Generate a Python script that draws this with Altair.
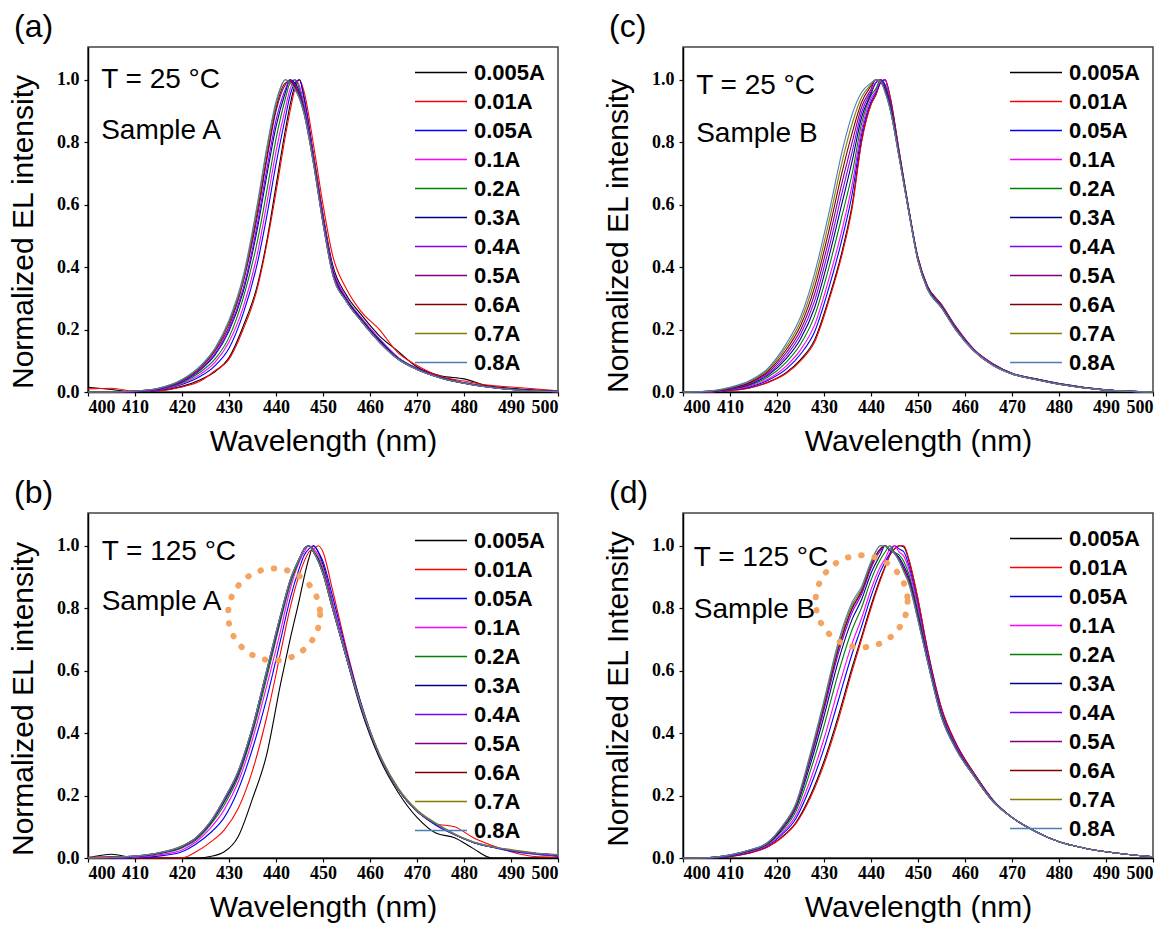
import altair as alt
import pandas as pd

CURRENTS = ["0.005A", "0.01A", "0.05A", "0.1A", "0.2A", "0.3A", "0.4A", "0.5A", "0.6A", "0.7A", "0.8A"]
COLORS = ["#000000", "#FF0000", "#0000FF", "#FF00FF", "#008000", "#000080",
          "#8000FF", "#800080", "#800000", "#808000", "#4A7EBB"]
X_TICKS = [400, 410, 420, 430, 440, 450, 460, 470, 480, 490, 500]
Y_TICKS = [0.0, 0.2, 0.4, 0.6, 0.8, 1.0]

# ---------------- (a) Sample A, 25 C ----------------
WL_A = [400, 405, 410, 415, 420, 424, 427, 430, 433, 436, 438, 440, 442, 443, 444, 445, 446, 448, 450, 452, 455, 458, 462, 466, 470, 475, 480, 485, 490, 500]
A_0005 = [0.015, 0.008, 0.0, 0.004, 0.018, 0.04, 0.065, 0.11, 0.21, 0.34, 0.48, 0.66, 0.84, 0.92, 0.98, 1.0, 0.94, 0.76, 0.57, 0.41, 0.31, 0.25, 0.18, 0.13, 0.08, 0.052, 0.042, 0.02, 0.012, 0.003]
A_001 = [0.01, 0.012, 0.002, 0.004, 0.016, 0.036, 0.068, 0.105, 0.2, 0.33, 0.47, 0.64, 0.82, 0.9, 0.97, 1.0, 0.96, 0.79, 0.6, 0.44, 0.33, 0.26, 0.2, 0.125, 0.085, 0.05, 0.035, 0.022, 0.016, 0.004]
A_005 = [0.0, 0.0, 0.001, 0.006, 0.024, 0.051, 0.084, 0.14, 0.25, 0.41, 0.56, 0.73, 0.88, 0.95, 0.99, 1.0, 0.94, 0.75, 0.56, 0.40, 0.30, 0.24, 0.17, 0.11, 0.076, 0.047, 0.03, 0.018, 0.01, 0.002]
A_01 = [0.0, 0.0, 0.001, 0.007, 0.027, 0.058, 0.095, 0.16, 0.27, 0.44, 0.6, 0.77, 0.91, 0.97, 1.0, 0.98, 0.92, 0.75, 0.56, 0.40, 0.30, 0.24, 0.17, 0.11, 0.075, 0.046, 0.029, 0.017, 0.009, 0.002]
A_02 = [0.0, 0.0, 0.002, 0.009, 0.03, 0.065, 0.105, 0.175, 0.3, 0.48, 0.64, 0.81, 0.94, 0.99, 1.0, 0.97, 0.91, 0.74, 0.55, 0.39, 0.295, 0.235, 0.165, 0.108, 0.074, 0.046, 0.029, 0.017, 0.009, 0.002]
A_03 = [0.0, 0.0, 0.002, 0.01, 0.033, 0.072, 0.118, 0.195, 0.32, 0.52, 0.69, 0.85, 0.96, 1.0, 0.99, 0.96, 0.9, 0.74, 0.55, 0.39, 0.295, 0.235, 0.165, 0.107, 0.073, 0.046, 0.028, 0.016, 0.008, 0.001]
A_04 = [0.0, 0.0, 0.002, 0.01, 0.034, 0.074, 0.122, 0.2, 0.33, 0.535, 0.71, 0.87, 0.97, 1.0, 0.985, 0.955, 0.9, 0.735, 0.545, 0.385, 0.29, 0.23, 0.16, 0.106, 0.073, 0.045, 0.028, 0.016, 0.008, 0.001]
A_05 = [0.0, 0.0, 0.003, 0.011, 0.037, 0.078, 0.13, 0.21, 0.35, 0.56, 0.74, 0.9, 0.985, 1.0, 0.98, 0.95, 0.895, 0.735, 0.545, 0.385, 0.29, 0.23, 0.16, 0.105, 0.072, 0.045, 0.028, 0.016, 0.008, 0.001]
A_06 = [0.0, 0.0, 0.003, 0.011, 0.038, 0.081, 0.134, 0.22, 0.355, 0.575, 0.75, 0.91, 0.99, 0.995, 0.975, 0.945, 0.89, 0.73, 0.54, 0.38, 0.29, 0.23, 0.16, 0.105, 0.072, 0.045, 0.028, 0.016, 0.008, 0.001]
A_07 = [0.0, 0.0, 0.003, 0.012, 0.039, 0.083, 0.137, 0.225, 0.36, 0.59, 0.77, 0.92, 1.0, 0.99, 0.97, 0.94, 0.89, 0.73, 0.54, 0.38, 0.29, 0.23, 0.16, 0.105, 0.072, 0.045, 0.028, 0.016, 0.008, 0.001]
A_08 = [0.0, 0.0, 0.003, 0.012, 0.04, 0.085, 0.14, 0.23, 0.37, 0.6, 0.78, 0.93, 1.0, 0.99, 0.97, 0.94, 0.89, 0.73, 0.54, 0.38, 0.29, 0.23, 0.16, 0.105, 0.072, 0.045, 0.028, 0.016, 0.008, 0.001]

# ---------------- (c) Sample B, 25 C ----------------
WL_C = [400, 405, 410, 414, 418, 422, 425, 428, 431, 434, 436, 438, 440, 441, 442, 443, 444, 446, 448, 450, 452, 455, 458, 462, 466, 470, 475, 480, 490, 500]
C_0005 = [0.0, 0.0, 0.005, 0.013, 0.031, 0.063, 0.104, 0.167, 0.298, 0.46, 0.6, 0.805, 0.922, 0.95, 0.99, 1.0, 0.95, 0.77, 0.59, 0.43, 0.34, 0.28, 0.21, 0.135, 0.09, 0.06, 0.042, 0.027, 0.007, 0.0]
C_001 = [0.0, 0.0, 0.005, 0.012, 0.03, 0.06, 0.1, 0.16, 0.29, 0.45, 0.59, 0.8, 0.92, 0.95, 0.99, 1.0, 0.95, 0.77, 0.59, 0.43, 0.34, 0.28, 0.21, 0.135, 0.09, 0.06, 0.042, 0.027, 0.007, 0.0]
C_005 = [0.0, 0.0, 0.0065, 0.0155, 0.037, 0.074, 0.121, 0.193, 0.332, 0.5, 0.635, 0.824, 0.93, 0.958, 0.99, 1.0, 0.94, 0.765, 0.588, 0.428, 0.338, 0.278, 0.208, 0.134, 0.089, 0.06, 0.042, 0.027, 0.007, 0.0]
C_01 = [0.0, 0.0, 0.0075, 0.018, 0.041, 0.084, 0.135, 0.215, 0.36, 0.53, 0.665, 0.84, 0.94, 0.963, 0.995, 1.0, 0.935, 0.762, 0.586, 0.426, 0.336, 0.276, 0.206, 0.133, 0.088, 0.059, 0.041, 0.026, 0.0065, 0.0]
C_02 = [0.0, 0.001, 0.009, 0.021, 0.047, 0.096, 0.153, 0.244, 0.396, 0.575, 0.7, 0.86, 0.95, 0.97, 1.0, 0.985, 0.93, 0.76, 0.585, 0.425, 0.335, 0.275, 0.205, 0.132, 0.087, 0.059, 0.041, 0.026, 0.0065, 0.0]
C_03 = [0.0, 0.001, 0.01, 0.0235, 0.0525, 0.1075, 0.17, 0.27, 0.43, 0.615, 0.74, 0.88, 0.955, 0.99, 1.0, 0.98, 0.925, 0.757, 0.583, 0.423, 0.333, 0.273, 0.203, 0.131, 0.086, 0.058, 0.04, 0.025, 0.006, 0.0]
C_04 = [0.0, 0.001, 0.011, 0.026, 0.057, 0.117, 0.184, 0.292, 0.458, 0.648, 0.77, 0.896, 0.962, 0.99, 1.0, 0.975, 0.92, 0.755, 0.582, 0.422, 0.332, 0.272, 0.202, 0.131, 0.086, 0.058, 0.04, 0.025, 0.006, 0.0]
C_05 = [0.0, 0.002, 0.012, 0.028, 0.0615, 0.1265, 0.198, 0.314, 0.486, 0.681, 0.8, 0.912, 0.97, 1.0, 0.995, 0.97, 0.915, 0.753, 0.581, 0.421, 0.331, 0.271, 0.201, 0.13, 0.085, 0.058, 0.04, 0.025, 0.006, 0.0]
C_06 = [0.0, 0.002, 0.013, 0.03, 0.066, 0.136, 0.212, 0.336, 0.514, 0.714, 0.83, 0.928, 0.98, 1.0, 0.995, 0.965, 0.912, 0.752, 0.58, 0.42, 0.33, 0.27, 0.2, 0.13, 0.085, 0.058, 0.04, 0.025, 0.006, 0.0]
C_07 = [0.0, 0.002, 0.014, 0.033, 0.0705, 0.1455, 0.226, 0.358, 0.542, 0.747, 0.86, 0.944, 0.985, 1.0, 0.995, 0.96, 0.91, 0.75, 0.58, 0.42, 0.33, 0.27, 0.2, 0.13, 0.085, 0.058, 0.04, 0.025, 0.006, 0.0]
C_08 = [0.0, 0.002, 0.015, 0.035, 0.075, 0.155, 0.24, 0.38, 0.57, 0.78, 0.89, 0.96, 0.99, 1.0, 0.995, 0.96, 0.91, 0.75, 0.58, 0.42, 0.33, 0.27, 0.2, 0.13, 0.085, 0.058, 0.04, 0.025, 0.006, 0.0]

# ---------------- (b) Sample A, 125 C ----------------
WL_B = [400, 405, 410, 415, 420, 423, 426, 429, 432, 435, 438, 441, 443, 445, 446, 447, 448, 449, 450, 452, 455, 458, 462, 466, 470, 474, 478, 482, 486, 490, 495, 500]
B_0005 = [0.0, 0.012, 0.0, 0.0, 0.0, 0.0, 0.005, 0.02, 0.07, 0.19, 0.33, 0.56, 0.7, 0.83, 0.9, 0.96, 1.0, 0.98, 0.94, 0.82, 0.64, 0.48, 0.32, 0.21, 0.13, 0.08, 0.065, 0.03, 0.0, 0.0, 0.0, 0.0]
B_001 = [0.003, 0.005, 0.0, 0.0, 0.0, 0.02, 0.05, 0.09, 0.16, 0.28, 0.45, 0.66, 0.8, 0.91, 0.95, 0.98, 0.99, 1.0, 0.98, 0.86, 0.67, 0.5, 0.33, 0.22, 0.15, 0.11, 0.1, 0.065, 0.04, 0.02, 0.005, 0.003]
B_005 = [0.0, 0.0, 0.001, 0.006, 0.02, 0.045, 0.08, 0.13, 0.22, 0.35, 0.51, 0.7, 0.83, 0.93, 0.97, 0.99, 1.0, 0.98, 0.95, 0.84, 0.66, 0.5, 0.33, 0.22, 0.15, 0.105, 0.075, 0.05, 0.035, 0.022, 0.012, 0.006]
B_01 = [0.0, 0.0, 0.002, 0.01, 0.026, 0.052, 0.095, 0.155, 0.245, 0.38, 0.55, 0.73, 0.86, 0.95, 0.98, 1.0, 0.99, 0.97, 0.93, 0.82, 0.65, 0.49, 0.33, 0.22, 0.15, 0.107, 0.075, 0.05, 0.035, 0.024, 0.014, 0.008]
B_02 = [0.0, 0.001, 0.004, 0.013, 0.032, 0.058, 0.105, 0.17, 0.26, 0.4, 0.575, 0.76, 0.875, 0.955, 0.99, 1.0, 0.985, 0.96, 0.92, 0.81, 0.645, 0.49, 0.33, 0.22, 0.15, 0.108, 0.075, 0.05, 0.035, 0.025, 0.015, 0.009]
B_03 = [0.0, 0.001, 0.005, 0.015, 0.035, 0.062, 0.11, 0.18, 0.27, 0.41, 0.59, 0.77, 0.885, 0.96, 0.99, 1.0, 0.98, 0.955, 0.915, 0.805, 0.64, 0.49, 0.33, 0.22, 0.15, 0.108, 0.075, 0.05, 0.035, 0.025, 0.015, 0.01]
B_04 = [0.0, 0.002, 0.005, 0.015, 0.036, 0.063, 0.112, 0.185, 0.275, 0.415, 0.595, 0.775, 0.887, 0.96, 0.99, 1.0, 0.98, 0.95, 0.91, 0.8, 0.64, 0.49, 0.33, 0.22, 0.15, 0.11, 0.075, 0.05, 0.035, 0.025, 0.015, 0.01]
B_05 = [0.0, 0.002, 0.006, 0.016, 0.037, 0.064, 0.113, 0.187, 0.277, 0.418, 0.597, 0.778, 0.888, 0.96, 0.99, 1.0, 0.98, 0.95, 0.91, 0.8, 0.64, 0.49, 0.33, 0.22, 0.15, 0.11, 0.075, 0.05, 0.035, 0.025, 0.015, 0.01]
B_06 = [0.0, 0.002, 0.006, 0.016, 0.038, 0.065, 0.115, 0.19, 0.28, 0.42, 0.6, 0.78, 0.89, 0.96, 0.99, 1.0, 0.98, 0.95, 0.91, 0.8, 0.64, 0.49, 0.33, 0.22, 0.15, 0.11, 0.075, 0.05, 0.035, 0.025, 0.015, 0.01]
B_07 = [0.0, 0.002, 0.006, 0.017, 0.039, 0.066, 0.116, 0.19, 0.28, 0.42, 0.6, 0.78, 0.89, 0.96, 0.99, 1.0, 0.98, 0.95, 0.912, 0.805, 0.645, 0.495, 0.335, 0.225, 0.155, 0.112, 0.078, 0.052, 0.037, 0.027, 0.017, 0.011]
B_08 = [0.0, 0.002, 0.006, 0.016, 0.038, 0.065, 0.115, 0.19, 0.28, 0.42, 0.6, 0.78, 0.89, 0.96, 0.99, 1.0, 0.98, 0.95, 0.91, 0.8, 0.64, 0.49, 0.33, 0.22, 0.15, 0.11, 0.075, 0.05, 0.035, 0.025, 0.015, 0.01]

# ---------------- (d) Sample B, 125 C ----------------
WL_D = [400, 405, 410, 414, 418, 421, 424, 427, 430, 433, 436, 438, 440, 442, 443, 444, 445, 446, 447, 448, 450, 452, 455, 458, 462, 466, 470, 475, 480, 485, 490, 500]
D_0005 = [0.0, 0.0, 0.005, 0.0155, 0.036, 0.067, 0.113, 0.197, 0.31, 0.452, 0.611, 0.709, 0.808, 0.896, 0.934, 0.97, 0.99, 1.0, 0.996, 0.956, 0.827, 0.668, 0.479, 0.369, 0.27, 0.185, 0.13, 0.085, 0.052, 0.033, 0.02, 0.004]
D_001 = [0.0, 0.0, 0.005, 0.015, 0.035, 0.065, 0.11, 0.19, 0.3, 0.44, 0.6, 0.7, 0.8, 0.89, 0.93, 0.97, 0.99, 1.0, 1.0, 0.96, 0.83, 0.67, 0.48, 0.37, 0.27, 0.185, 0.13, 0.085, 0.052, 0.033, 0.02, 0.004]
D_005 = [0.0, 0.0, 0.006, 0.0175, 0.039, 0.074, 0.126, 0.225, 0.351, 0.502, 0.655, 0.742, 0.838, 0.918, 0.948, 0.975, 1.0, 0.99, 0.98, 0.94, 0.81, 0.66, 0.472, 0.365, 0.267, 0.184, 0.13, 0.085, 0.052, 0.033, 0.02, 0.004]
D_01 = [0.0, 0.0, 0.007, 0.019, 0.041, 0.079, 0.136, 0.246, 0.382, 0.54, 0.688, 0.768, 0.86, 0.934, 0.958, 0.99, 1.0, 0.98, 0.966, 0.928, 0.802, 0.654, 0.468, 0.362, 0.266, 0.183, 0.13, 0.085, 0.052, 0.033, 0.02, 0.004]
D_02 = [0.0, 0.0, 0.008, 0.021, 0.044, 0.086, 0.149, 0.274, 0.423, 0.59, 0.732, 0.802, 0.89, 0.956, 0.98, 1.0, 0.98, 0.97, 0.95, 0.912, 0.788, 0.646, 0.462, 0.358, 0.264, 0.182, 0.13, 0.085, 0.052, 0.033, 0.02, 0.004]
D_03 = [0.0, 0.001, 0.009, 0.0225, 0.046, 0.091, 0.159, 0.295, 0.454, 0.628, 0.765, 0.828, 0.912, 0.972, 1.0, 0.985, 0.978, 0.962, 0.936, 0.9, 0.778, 0.64, 0.457, 0.355, 0.262, 0.181, 0.13, 0.085, 0.052, 0.033, 0.02, 0.004]
D_04 = [0.0, 0.001, 0.009, 0.0235, 0.048, 0.095, 0.165, 0.309, 0.474, 0.652, 0.787, 0.845, 0.927, 0.984, 1.0, 0.987, 0.977, 0.957, 0.928, 0.892, 0.77, 0.636, 0.454, 0.353, 0.261, 0.181, 0.13, 0.085, 0.052, 0.033, 0.02, 0.004]
D_05 = [0.0, 0.001, 0.0095, 0.024, 0.0485, 0.0965, 0.168, 0.316, 0.485, 0.665, 0.798, 0.853, 0.935, 0.99, 1.0, 0.988, 0.976, 0.955, 0.923, 0.888, 0.767, 0.634, 0.453, 0.352, 0.261, 0.18, 0.13, 0.085, 0.052, 0.033, 0.02, 0.004]
D_06 = [0.0, 0.001, 0.0096, 0.0245, 0.049, 0.097, 0.17, 0.319, 0.489, 0.67, 0.802, 0.856, 0.938, 0.99, 1.0, 0.988, 0.976, 0.954, 0.922, 0.886, 0.766, 0.633, 0.452, 0.352, 0.26, 0.18, 0.13, 0.085, 0.052, 0.033, 0.02, 0.004]
D_07 = [0.0, 0.001, 0.0098, 0.0246, 0.049, 0.099, 0.172, 0.324, 0.497, 0.68, 0.811, 0.863, 0.944, 1.0, 0.998, 0.989, 0.976, 0.952, 0.918, 0.883, 0.763, 0.632, 0.451, 0.351, 0.26, 0.18, 0.13, 0.085, 0.052, 0.033, 0.02, 0.004]
D_08 = [0.0, 0.001, 0.01, 0.025, 0.05, 0.1, 0.175, 0.33, 0.505, 0.69, 0.82, 0.87, 0.95, 1.0, 1.0, 0.99, 0.975, 0.95, 0.915, 0.88, 0.76, 0.63, 0.45, 0.35, 0.26, 0.18, 0.13, 0.085, 0.052, 0.033, 0.02, 0.004]

SERIES_A = [A_0005, A_001, A_005, A_01, A_02, A_03, A_04, A_05, A_06, A_07, A_08]
SERIES_B = [B_0005, B_001, B_005, B_01, B_02, B_03, B_04, B_05, B_06, B_07, B_08]
SERIES_C = [C_0005, C_001, C_005, C_01, C_02, C_03, C_04, C_05, C_06, C_07, C_08]
SERIES_D = [D_0005, D_001, D_005, D_01, D_02, D_03, D_04, D_05, D_06, D_07, D_08]

PW, PH = 470, 345
SANS = "Liberation Sans"
SERIF = "Liberation Serif"


def panel(letter, wl, series, temp, sample, ytitle, txt_pos, circle=None, legend_y=11, ytitle_shift=12):
    rows = []
    for order, (cur, ys) in enumerate(zip(CURRENTS, series)):
        for w, v in zip(wl, ys):
            rows.append({"wl": w, "I": v, "cur": cur, "k": order})
    df = pd.DataFrame(rows)

    x = alt.X("wl:Q", scale=alt.Scale(domain=[400, 500], nice=False, zero=False),
              axis=alt.Axis(values=X_TICKS, title="Wavelength (nm)", format="d"))
    y = alt.Y("I:Q", scale=alt.Scale(domain=[0, 1.105], nice=False),
              axis=alt.Axis(values=Y_TICKS, title=ytitle, format=".1f", titleY=PH / 2 + ytitle_shift))

    lines = alt.Chart(df).mark_line(strokeWidth=1.1, interpolate="monotone").encode(
        x=x, y=y,
        color=alt.Color("cur:N", scale=alt.Scale(domain=CURRENTS, range=COLORS),
                        legend=alt.Legend(title=None, orient="none", legendX=326, legendY=legend_y,
                                          symbolType="stroke", symbolSize=2704, symbolStrokeWidth=1.6,
                                          clipHeight=29, rowPadding=0, labelOffset=6, padding=0,
                                          labelFont=SANS, labelFontSize=22, labelFontWeight="bold",
                                          labelColor="black", labelLimit=200)),
        order=alt.Order("k:Q"),
    )
    (tx, ty1, ty2) = txt_pos
    t1 = alt.Chart().mark_text(align="left", baseline="middle", font=SANS, fontSize=28,
                               color="black").encode(x=alt.datum(tx), y=alt.datum(ty1), text=alt.value(temp))
    t2 = alt.Chart().mark_text(align="left", baseline="middle", font=SANS, fontSize=28,
                               color="black").encode(x=alt.datum(tx), y=alt.datum(ty2), text=alt.value(sample))
    layers = [lines, t1, t2]
    if circle is not None:
        ring = alt.Chart().mark_point(shape="circle", size=8464, filled=False, stroke="#F4A460",
                                      strokeWidth=6, strokeDash=[0.5, 13], strokeCap="round",
                                      opacity=1).encode(x=alt.datum(circle[0]), y=alt.datum(circle[1]))
        layers.append(ring)
    return alt.layer(*layers).properties(
        width=PW, height=PH,
        title=alt.TitleParams(letter, anchor="start", frame="group", dx=-74, offset=-22,
                              baseline="alphabetic", font=SANS, fontSize=32, fontWeight="normal",
                              color="black"),
    )


pa = panel("(a)", WL_A, SERIES_A, "T = 25 °C", "Sample A", "Normalized EL intensity", (402.8, 1.0, 0.835),
           ytitle_shift=12)
pc = panel("(c)", WL_C, SERIES_C, "T = 25 °C", "Sample B", "Normalized EL intensity", (402.8, 0.98, 0.825),
           ytitle_shift=16)
pb = panel("(b)", WL_B, SERIES_B, "T = 125 °C", "Sample A", "Normalized EL intensity", (402.9, 0.98, 0.82),
           circle=(439.6, 0.78), legend_y=13, ytitle_shift=13)
pd_ = panel("(d)", WL_D, SERIES_D, "T = 125 °C", "Sample B", "Normalized EL Intensity", (402.3, 0.96, 0.795),
            circle=(438.0, 0.822), ytitle_shift=3)

top = alt.hconcat(pa, pc, spacing=41).resolve_scale(color="independent")
bottom = alt.hconcat(pb, pd_, spacing=41).resolve_scale(color="independent")
chart = alt.vconcat(top, bottom, spacing=19).resolve_scale(color="independent").properties(
    padding={"left": 7, "top": 10, "right": 5, "bottom": 5},
    background="white",
).configure_view(
    stroke="#444444", strokeWidth=1.5
).configure_axis(
    labelFont=SERIF, labelFontSize=18, labelFontWeight="bold", labelColor="black",
    titleFont=SANS, titleFontSize=30, titleFontWeight="normal", titleColor="black",
    domainColor="black", domainWidth=1.5, tickColor="black", tickSize=4, tickWidth=1.2,
    grid=False,
).configure_axisX(
    labelPadding=2, titlePadding=10,
).configure_axisY(
    labelPadding=5, titlePadding=18,
)

chart.save("out.html", embed_options={"renderer": "svg", "actions": False})
